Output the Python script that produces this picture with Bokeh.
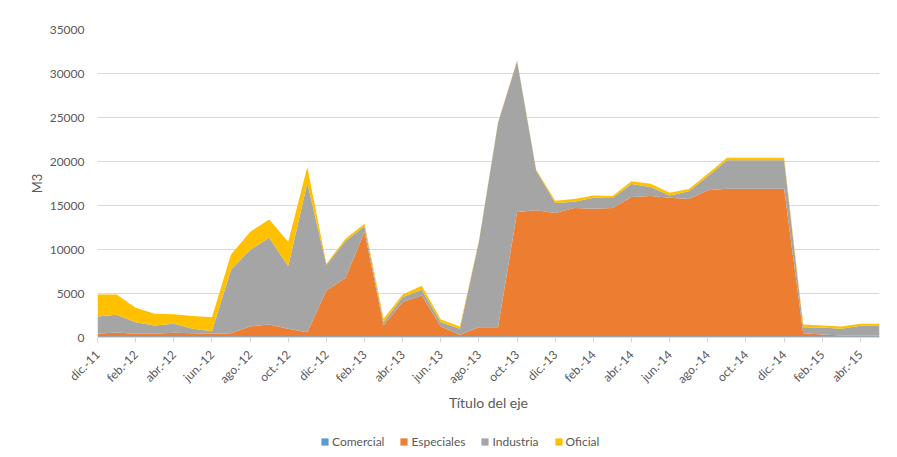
import math
from bokeh.plotting import figure
from bokeh.layouts import column
from bokeh.models import (ColumnDataSource, FixedTicker, Legend, LegendItem,
                          Range1d)
from bokeh.embed import file_html
from bokeh.resources import INLINE

months = ["dic.-11", "ene.-12", "feb.-12", "mar.-12", "abr.-12", "may.-12",
          "jun.-12", "jul.-12", "ago.-12", "sep.-12", "oct.-12", "nov.-12",
          "dic.-12", "ene.-13", "feb.-13", "mar.-13", "abr.-13", "may.-13",
          "jun.-13", "jul.-13", "ago.-13", "sep.-13", "oct.-13", "nov.-13",
          "dic.-13", "ene.-14", "feb.-14", "mar.-14", "abr.-14", "may.-14",
          "jun.-14", "jul.-14", "ago.-14", "sep.-14", "oct.-14", "nov.-14",
          "dic.-14", "ene.-15", "feb.-15", "mar.-15", "abr.-15", "may.-15"]

comercial = [150, 150, 150, 150, 150, 150, 150, 150, 150, 150, 150, 150,
             150, 150, 150, 150, 150, 150, 150, 150, 150, 150, 150, 150,
             150, 150, 150, 150, 150, 150, 150, 150, 150, 150, 150, 150,
             150, 150, 150, 150, 150, 150]
especiales = [270, 420, 270, 270, 380, 340, 270, 340, 1100, 1330, 840, 450,
              5200, 6600, 11830, 1215, 3870, 4630, 1100, 150, 1020, 1020, 14100, 14300,
              13990, 14560, 14490, 14560, 15810, 15920, 15740, 15580, 16570, 16760, 16760, 16760,
              16760, 340, 190, 80, 80, 80]
industria = [1970, 2010, 1320, 945, 1025, 500, 300, 7210, 8700, 9860, 7120, 16950,
             2900, 4210, 650, 375, 570, 640, 490, 690, 9780, 23230, 17170, 4530,
             1140, 720, 1250, 1140, 1480, 1030, 260, 880, 1590, 3220, 3220, 3220,
             3220, 680, 800, 760, 1100, 1100]
oficial = [2510, 2320, 1640, 1325, 1095, 1440, 1590, 1740, 2050, 2080, 2770, 1820,
           130, 270, 300, 380, 300, 460, 310, 260, 80, 90, 90, 90,
           270, 300, 260, 220, 310, 380, 310, 260, 310, 310, 310, 310,
           310, 310, 225, 260, 225, 225]

series_names = ["Comercial", "Especiales", "Industria", "Oficial"]
series_colors = ["#5B9BD5", "#ED7D31", "#A5A5A5", "#FFC000"]
y_ticks = [0, 5000, 10000, 15000, 20000, 25000, 30000, 35000]

source = ColumnDataSource(dict(
    x=list(range(len(months))),
    comercial=comercial, especiales=especiales,
    industria=industria, oficial=oficial,
))
stackers = ["comercial", "especiales", "industria", "oficial"]

FONT = "Lato"
GREY = "#595959"

p = figure(frame_width=782, frame_height=308, output_backend="svg", toolbar_location=None,
           x_range=Range1d(0, len(months) - 1), y_range=Range1d(0, 35000),
           min_border_left=97, min_border_right=18, min_border_top=29,
           min_border_bottom=83)
p.outline_line_color = None
p.background_fill_color = "white"
p.border_fill_color = "white"

renderers = p.varea_stack(stackers=stackers, x="x", color=series_colors, source=source)

p.xgrid.visible = False
p.ygrid.grid_line_color = "#d9d9d9"
p.ygrid.grid_line_width = 1

ya = p.yaxis[0]
ya.ticker = FixedTicker(ticks=y_ticks, minor_ticks=[])
ya.axis_line_color = None
ya.major_tick_line_color = None
ya.minor_tick_line_color = None
ya.major_tick_out = 0
ya.major_tick_in = 0
ya.major_label_standoff = 13
ya.major_label_text_font = FONT
ya.major_label_text_font_size = "12px"
ya.major_label_text_color = GREY
ya.axis_label = "M3"
ya.axis_label_text_font = FONT
ya.axis_label_text_font_style = "normal"
ya.axis_label_text_font_size = "13px"
ya.axis_label_text_color = GREY
ya.axis_label_standoff = 2

xa = p.xaxis[0]
xa.ticker = FixedTicker(ticks=list(range(0, len(months), 2)), minor_ticks=[])
xa.major_label_overrides = {i: months[i] for i in range(0, len(months), 2)}
xa.major_label_orientation = math.pi / 4
xa.axis_line_color = "#d9d9d9"
xa.major_tick_line_color = "#d9d9d9"
xa.major_tick_out = 5
xa.major_tick_in = 0
xa.minor_tick_line_color = None
xa.major_label_standoff = 10
xa.major_label_text_font = FONT
xa.major_label_text_font_size = "12px"
xa.major_label_text_color = GREY
xa.axis_label = "Título del eje"
xa.axis_label_text_font = FONT
xa.axis_label_text_font_style = "normal"
xa.axis_label_text_font_size = "14px"
xa.axis_label_text_color = GREY
xa.axis_label_standoff = 0

# legend strip below the chart (its data lies outside the strip's view,
# only the legend swatches are visible)
p2 = figure(width=897, height=37, output_backend="svg", toolbar_location=None,
            x_range=Range1d(1000, 1001), y_range=Range1d(1000, 1001), min_border=0)
p2.axis.visible = False
p2.grid.visible = False
p2.outline_line_color = None
p2.background_fill_color = "white"
p2.border_fill_color = "white"
swatches = p2.varea_stack(stackers=stackers, x="x", color=series_colors, source=source)

legend = Legend(items=[LegendItem(label=n, renderers=[r]) for n, r in zip(series_names, swatches)],
                orientation="horizontal", location=(223, 8),
                padding=0, margin=0, spacing=15, glyph_width=9, glyph_height=9,
                label_height=14, label_standoff=3, label_text_font=FONT,
                label_text_font_size="12px", label_text_color=GREY,
                border_line_color=None, background_fill_alpha=0)
p2.add_layout(legend)

layout = column(p, p2, spacing=0)
open("out.html", "w").write(file_html(layout, INLINE))
